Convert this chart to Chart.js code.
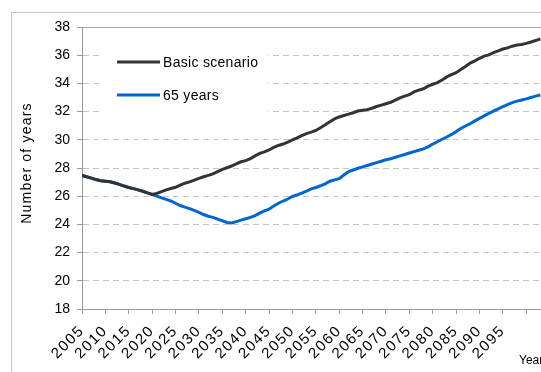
<!DOCTYPE html>
<html>
<head>
<meta charset="utf-8">
<script src="https://cdn.jsdelivr.net/npm/chart.js@4/dist/chart.umd.min.js"></script>
<style>
  html, body { margin: 0; padding: 0; overflow: hidden; background: #fff; }
  #wrap { position: absolute; left: 0; top: 0; width: 547px; height: 372px; }
</style>
</head>
<body>
<div id="wrap"><canvas id="myChart" width="547" height="372"></canvas></div>
<script>
const firstYear = 2005;
const lastYear = 2103;
const years = [];
for (let y = firstYear; y <= lastYear; y++) years.push(y);

// Basic scenario, 2005..2103
const basic = [
  27.48, 27.38, 27.28, 27.18, 27.10, 27.06, 27.02, 26.94, 26.84, 26.72,
  26.62, 26.54, 26.45, 26.35, 26.24, 26.12, 26.20, 26.32, 26.45, 26.55,
  26.63, 26.78, 26.92, 27.02, 27.14, 27.26, 27.38, 27.48, 27.58, 27.74,
  27.90, 28.02, 28.14, 28.30, 28.44, 28.52, 28.66, 28.86, 29.04, 29.14,
  29.28, 29.46, 29.60, 29.70, 29.84, 30.00, 30.14, 30.30, 30.44, 30.54,
  30.66, 30.86, 31.06, 31.28, 31.48, 31.62, 31.72, 31.82, 31.92, 32.04,
  32.10, 32.14, 32.24, 32.36, 32.46, 32.56, 32.66, 32.82, 32.98, 33.10,
  33.20, 33.40, 33.52, 33.62, 33.80, 33.94, 34.06, 34.24, 34.46, 34.62,
  34.76, 34.98, 35.20, 35.44, 35.60, 35.78, 35.94, 36.02, 36.18, 36.30,
  36.44, 36.52, 36.64, 36.72, 36.76, 36.84, 36.94, 37.04, 37.16
];

// 65 years, 2005..2103
const age65 = [
  27.48, 27.38, 27.28, 27.18, 27.10, 27.06, 27.02, 26.94, 26.84, 26.72,
  26.62, 26.54, 26.45, 26.35, 26.24, 26.12, 26.00, 25.88, 25.78, 25.66,
  25.50, 25.34, 25.22, 25.12, 25.00, 24.86, 24.70, 24.58, 24.50, 24.38,
  24.26, 24.14, 24.10, 24.20, 24.30, 24.40, 24.50, 24.62, 24.80, 24.96,
  25.08, 25.30, 25.50, 25.66, 25.80, 25.98, 26.10, 26.22, 26.36, 26.52,
  26.62, 26.74, 26.88, 27.06, 27.16, 27.24, 27.50, 27.74, 27.86, 27.98,
  28.08, 28.18, 28.28, 28.38, 28.48, 28.58, 28.66, 28.76, 28.86, 28.96,
  29.06, 29.16, 29.26, 29.36, 29.50, 29.70, 29.86, 30.04, 30.20, 30.38,
  30.58, 30.80, 30.98, 31.14, 31.34, 31.52, 31.70, 31.88, 32.04, 32.20,
  32.36, 32.50, 32.64, 32.74, 32.82, 32.90, 33.00, 33.10, 33.18
];

const seriesNames = ["Basic scenario", "65 years"];
const seriesColors = ["#333333", "#0066cc"];
const yMin = 18, yMax = 38, yStep = 2;
const xMax = 2104, lastLabelYear = 2095;

const font = "'Liberation Sans', Arial, sans-serif";

// frame, plot top line, legend box and axis titles
const decorations = {
  id: 'decorations',
  beforeDraw(chart) {
    const c = chart.ctx;
    c.save();
    c.strokeStyle = '#c8c8c8';
    c.lineWidth = 1;
    c.strokeRect(11.5, 12.5, 1000, 1000);
    c.restore();
  },
  beforeDatasetsDraw(chart) {
    const c = chart.ctx, a = chart.chartArea;
    c.save();
    c.strokeStyle = '#a8a8a8';
    c.lineWidth = 1;
    c.beginPath();
    c.moveTo(a.left, Math.round(a.top) + 0.5);
    c.lineTo(a.right, Math.round(a.top) + 0.5);
    c.stroke();

    // legend
    c.fillStyle = '#fff';
    c.fillRect(103, 40, 165, 76);
    c.font = '14px ' + font;
    c.textBaseline = 'middle';
    c.letterSpacing = '0.3px';
    const rows = [62, 95];
    for (let i = 0; i < seriesNames.length; i++) {
      c.strokeStyle = seriesColors[i];
      c.lineWidth = 3;
      c.beginPath();
      c.moveTo(117, rows[i]);
      c.lineTo(160, rows[i]);
      c.stroke();
      c.fillStyle = '#000';
      c.fillText(seriesNames[i], 163, rows[i] + 1);
    }

    // y title
    c.save();
    c.translate(27, 163);
    c.rotate(-Math.PI / 2);
    c.letterSpacing = '1.2px';
    c.textAlign = 'center';
    c.fillText('Number of years', 0, 0);
    c.restore();

    // x title
    c.letterSpacing = '0px';
    c.font = '12px ' + font;
    c.textAlign = 'left';
    c.textBaseline = 'alphabetic';
    c.fillText('Year', 519, 364);
    c.restore();
  },
  // x tick labels are drawn after the datasets (ticks.z: 1), slightly spaced
  afterDatasetsDraw(chart) {
    chart.ctx.letterSpacing = '1.5px';
  },
  afterDraw(chart) {
    chart.ctx.letterSpacing = '0px';
  }
};

const ctx = document.getElementById('myChart');
new Chart(ctx, {
  type: 'line',
  data: {
    datasets: [
      {
        label: seriesNames[0],
        data: years.map((y, i) => ({ x: y, y: basic[i] })),
        borderColor: seriesColors[0],
        borderWidth: 3,
        pointRadius: 0,
        tension: 0
      },
      {
        label: seriesNames[1],
        data: years.map((y, i) => ({ x: y, y: age65[i] })),
        borderColor: seriesColors[1],
        borderWidth: 3,
        pointRadius: 0,
        tension: 0
      }
    ]
  },
  options: {
    responsive: false,
    animation: false,
    layout: { padding: { top: 27, left: 0, right: 0, bottom: 0 } },
    plugins: { legend: { display: false }, tooltip: { enabled: false } },
    scales: {
      x: {
        type: 'linear',
        min: firstYear,
        max: xMax,
        afterFit: (s) => { s.height = 63; },
        ticks: {
          z: 1,
          stepSize: 5,
          includeBounds: false,
          autoSkip: false,
          minRotation: 45,
          maxRotation: 45,
          padding: 8,
          color: '#000',
          font: { family: font, size: 15 },
          callback: (v) => (v <= lastLabelYear ? String(v) : '')
        },
        grid: { drawOnChartArea: false, tickLength: 5, tickColor: '#999' },
        border: { color: '#999' }
      },
      y: {
        min: yMin,
        max: yMax,
        afterFit: (s) => { s.width = 82; },
        ticks: {
          stepSize: yStep,
          padding: 7,
          color: '#000',
          font: { family: font, size: 14 }
        },
        grid: { color: '#c4c4c4', tickLength: 5, tickColor: '#999' },
        border: { color: '#999', dash: [6, 4] }
      }
    }
  },
  plugins: [decorations]
});
</script>
</body>
</html>
